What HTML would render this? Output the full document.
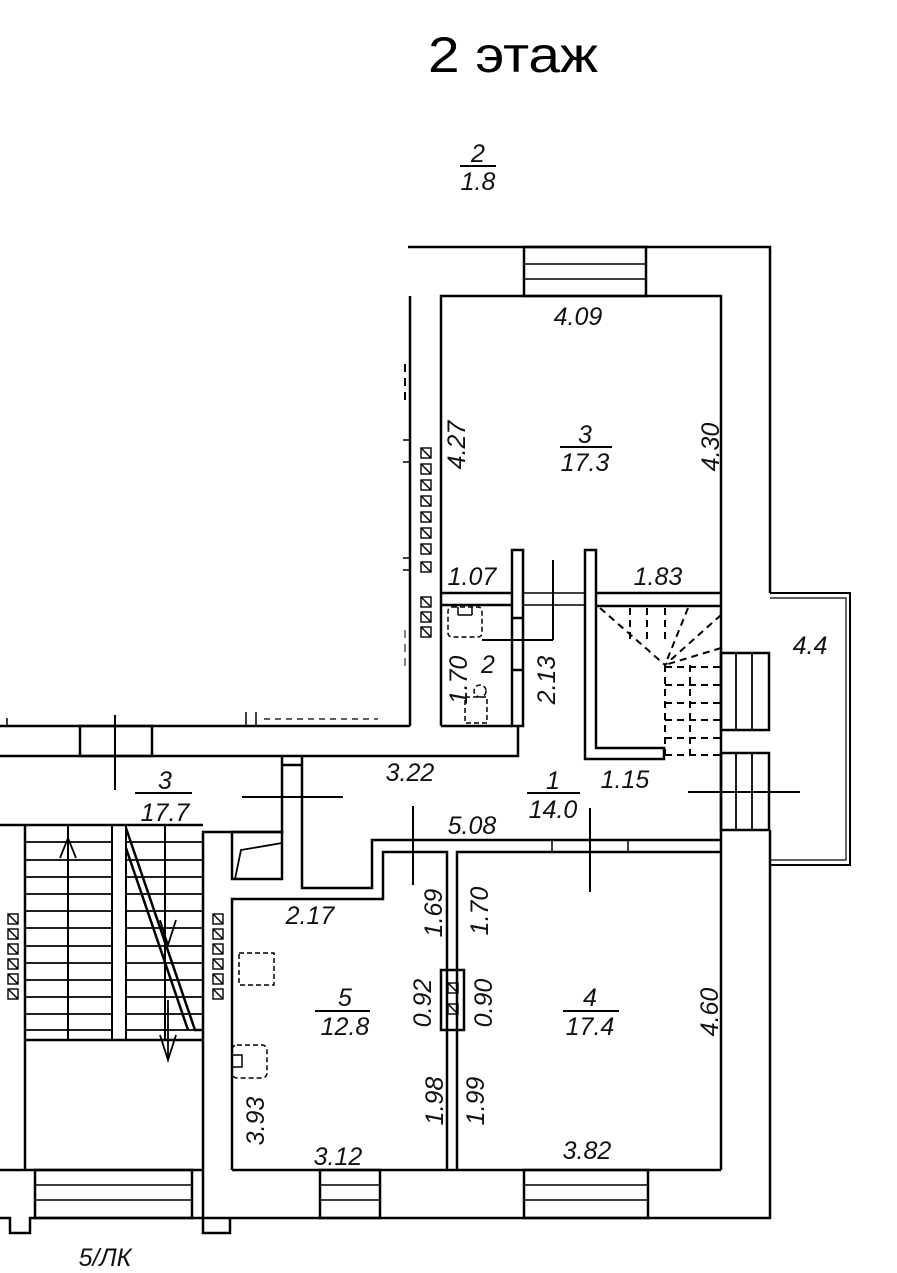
<!DOCTYPE html>
<html><head><meta charset="utf-8"><style>
html,body{margin:0;padding:0;background:#fff}
svg{display:block}
.t{font-family:"Liberation Sans",sans-serif;font-style:italic;font-size:25px;fill:#111}
</style></head><body>
<svg width="897" height="1273" viewBox="0 0 897 1273" xmlns="http://www.w3.org/2000/svg">
<defs><g id="s"><rect x="0" y="0" width="10" height="10" fill="none" stroke="#000" stroke-width="1.4"/><line x1="0" y1="0" x2="10" y2="10" stroke="#000" stroke-width="1.4"/></g></defs>
<g fill="none" stroke="#000" stroke-width="2.5">
<polyline points="408,247 770,247 770,593"/>
<rect x="524" y="247" width="122" height="49"/>
<line x1="524" y1="264" x2="646" y2="264" stroke-width="1.5"/>
<line x1="524" y1="279" x2="646" y2="279" stroke-width="1.5"/>
<polyline points="441,726 441,296 721,296 721,1170"/>
<line x1="410" y1="296" x2="410" y2="726"/>
<line x1="441" y1="593" x2="512" y2="593"/><line x1="441" y1="605" x2="512" y2="605"/>
<line x1="523" y1="593" x2="585" y2="593" stroke-width="1.5"/><line x1="523" y1="605" x2="585" y2="605" stroke-width="1.5"/>
<line x1="596" y1="593" x2="721" y2="593"/><line x1="596" y1="606" x2="721" y2="606"/>
<rect x="512" y="550" width="11" height="176"/>
<line x1="512" y1="618" x2="523" y2="618"/><line x1="512" y1="670" x2="523" y2="670"/>
<polygon points="585,550 596,550 596,748 664,748 664,759 585,759"/>
<polyline points="441,726 512,726"/>
<polyline points="0,726 410,726"/>
<polyline points="0,756 518,756 518,726"/>
<rect x="80" y="726" width="72" height="30"/>
<polyline points="282,756 282,832 203,832 203,1233 230,1233 230,1218"/>
<line x1="282" y1="765" x2="302" y2="765"/>
<polyline points="302,756 302,888 372,888 372,840 721,840"/>
<polyline points="232,1170 232,899 383,899 383,852 447,852 447,1170"/>
<polyline points="457,1170 457,852 721,852"/>
<line x1="628" y1="840" x2="628" y2="852" stroke-width="1.5"/>
<line x1="552" y1="840" x2="552" y2="852" stroke-width="1.5"/>
<rect x="232" y="832" width="50" height="47"/>
<polyline points="235,879 241,850 282,843" stroke-width="1.8"/>
<rect x="441" y="970" width="23" height="60"/>
<polyline points="0,825 203,825"/>
<line x1="25" y1="825" x2="25" y2="1170"/>
<line x1="25" y1="1040" x2="203" y2="1040"/>
<line x1="25" y1="1170" x2="203" y2="1170"/>
<rect x="112" y="825" width="14" height="215" stroke-width="2"/>
<line x1="68" y1="825" x2="68" y2="1040" stroke-width="2"/>
<line x1="165" y1="825" x2="165" y2="1040" stroke-width="2"/>
<g stroke-width="1.8">
<line x1="25" y1="842" x2="112" y2="842"/><line x1="126" y1="842" x2="203" y2="842"/>
<line x1="25" y1="860" x2="112" y2="860"/><line x1="126" y1="860" x2="203" y2="860"/>
<line x1="25" y1="877" x2="112" y2="877"/><line x1="126" y1="877" x2="203" y2="877"/>
<line x1="25" y1="894" x2="112" y2="894"/><line x1="126" y1="894" x2="203" y2="894"/>
<line x1="25" y1="911" x2="112" y2="911"/><line x1="126" y1="911" x2="203" y2="911"/>
<line x1="25" y1="928" x2="112" y2="928"/><line x1="126" y1="928" x2="203" y2="928"/>
<line x1="25" y1="946" x2="112" y2="946"/><line x1="126" y1="946" x2="203" y2="946"/>
<line x1="25" y1="963" x2="112" y2="963"/><line x1="126" y1="963" x2="203" y2="963"/>
<line x1="25" y1="980" x2="112" y2="980"/><line x1="126" y1="980" x2="203" y2="980"/>
<line x1="25" y1="997" x2="112" y2="997"/><line x1="126" y1="997" x2="203" y2="997"/>
<line x1="25" y1="1014" x2="112" y2="1014"/><line x1="126" y1="1014" x2="203" y2="1014"/>
<line x1="25" y1="1030" x2="112" y2="1030"/><line x1="126" y1="1030" x2="203" y2="1030"/>
</g>
<polyline points="126,828 195,1030 203,1030"/><polyline points="126,848 188,1030"/>
<polyline points="60,858 68,838 76,858" stroke-width="1.8"/>
<polyline points="160,920 168,945 176,920" stroke-width="1.8"/>
<line x1="168" y1="1000" x2="168" y2="1060" stroke-width="1.8"/>
<polyline points="160,1035 168,1060 176,1035" stroke-width="1.8"/>
<polyline points="0,1170 25,1170"/>
<polyline points="0,1218 10,1218 10,1233 30,1233 30,1218 770,1218 770,830"/>
<line x1="232" y1="1170" x2="721" y2="1170"/>
<rect x="35" y="1170" width="157" height="48"/>
<line x1="35" y1="1185" x2="192" y2="1185" stroke-width="1.5"/><line x1="35" y1="1200" x2="192" y2="1200" stroke-width="1.5"/>
<rect x="320" y="1170" width="60" height="48"/>
<line x1="320" y1="1185" x2="380" y2="1185" stroke-width="1.5"/><line x1="320" y1="1200" x2="380" y2="1200" stroke-width="1.5"/>
<rect x="524" y="1170" width="124" height="48"/>
<line x1="524" y1="1185" x2="648" y2="1185" stroke-width="1.5"/><line x1="524" y1="1200" x2="648" y2="1200" stroke-width="1.5"/>
<rect x="721" y="653" width="48" height="77"/>
<line x1="736" y1="653" x2="736" y2="730" stroke-width="1.8"/><line x1="752" y1="653" x2="752" y2="730" stroke-width="1.8"/>
<rect x="721" y="753" width="48" height="77"/>
<line x1="736" y1="753" x2="736" y2="830" stroke-width="1.8"/><line x1="752" y1="753" x2="752" y2="830" stroke-width="1.8"/>
<polyline points="770,593 850,593 850,865 770,865" stroke-width="2"/>
<polyline points="770,598 846,598 846,860 770,860" stroke-width="1.2"/>
<g stroke-width="2" stroke-dasharray="7,5">
<line x1="600" y1="608" x2="665" y2="665"/>
<line x1="630" y1="608" x2="630" y2="640"/><line x1="647" y1="608" x2="647" y2="640"/><line x1="665" y1="608" x2="665" y2="640"/>
<line x1="688" y1="608" x2="665" y2="665"/><line x1="721" y1="615" x2="665" y2="665"/><line x1="721" y1="648" x2="665" y2="665"/>
<line x1="665" y1="665" x2="665" y2="755"/><line x1="690" y1="665" x2="690" y2="755"/>
<line x1="665" y1="667" x2="721" y2="667"/><line x1="665" y1="685" x2="721" y2="685"/><line x1="665" y1="703" x2="721" y2="703"/>
<line x1="665" y1="720" x2="721" y2="720"/><line x1="665" y1="738" x2="721" y2="738"/><line x1="665" y1="755" x2="721" y2="755"/>
</g>
<g stroke-width="1.5" stroke-dasharray="5,3">
<rect x="448" y="607" width="34" height="30" rx="4"/>
<rect x="465" y="697" width="22" height="26"/>
<circle cx="480" cy="691" r="6"/>
<rect x="239" y="953" width="35" height="32"/>
<rect x="232" y="1045" width="35" height="33" rx="5"/>
</g>
<line x1="458" y1="607" x2="458" y2="615" stroke-width="1.5"/><line x1="458" y1="615" x2="472" y2="615" stroke-width="1.5"/><line x1="472" y1="607" x2="472" y2="615" stroke-width="1.5"/>
<rect x="232" y="1055" width="10" height="12" stroke-width="1.5"/>
<g stroke-width="2" stroke-dasharray="8,6"><line x1="405" y1="364" x2="405" y2="400"/><line x1="405" y1="630" x2="405" y2="670" stroke-width="1"/></g>
<line x1="403" y1="440" x2="410" y2="440" stroke-width="1.5"/><line x1="403" y1="462" x2="410" y2="462" stroke-width="1.5"/>
<line x1="403" y1="558" x2="410" y2="558" stroke-width="1.5"/><line x1="403" y1="570" x2="410" y2="570" stroke-width="1.5"/>
<line x1="246" y1="712" x2="246" y2="726" stroke-width="1.5"/><line x1="256" y1="712" x2="256" y2="726" stroke-width="1.5"/>
<line x1="7" y1="718" x2="7" y2="726" stroke-width="1.5"/>
<line x1="264" y1="719" x2="378" y2="719" stroke-width="1.2" stroke-dasharray="6,5"/>
<g stroke-width="2">
<line x1="115" y1="715" x2="115" y2="790"/>
<line x1="242" y1="797" x2="343" y2="797"/>
<line x1="413" y1="806" x2="413" y2="885"/>
<line x1="590" y1="808" x2="590" y2="892"/>
<line x1="688" y1="792" x2="800" y2="792"/>
<line x1="553" y1="560" x2="553" y2="640"/>
<line x1="482" y1="640" x2="553" y2="640"/>
</g>
<g stroke-width="2">
<line x1="460" y1="166" x2="496" y2="166"/>
<line x1="560" y1="447" x2="612" y2="447"/>
<line x1="135" y1="793" x2="192" y2="793"/>
<line x1="527" y1="793" x2="580" y2="793"/>
<line x1="315" y1="1011" x2="370" y2="1011"/>
<line x1="563" y1="1011" x2="619" y2="1011"/>
</g>
</g>
<g>
<use href="#s" x="421" y="448"/><use href="#s" x="421" y="464"/><use href="#s" x="421" y="480"/><use href="#s" x="421" y="496"/>
<use href="#s" x="421" y="512"/><use href="#s" x="421" y="528"/><use href="#s" x="421" y="544"/><use href="#s" x="421" y="562"/>
<use href="#s" x="421" y="597"/><use href="#s" x="421" y="612"/><use href="#s" x="421" y="627"/>
<use href="#s" x="8" y="914"/><use href="#s" x="8" y="929"/><use href="#s" x="8" y="944"/><use href="#s" x="8" y="959"/><use href="#s" x="8" y="974"/><use href="#s" x="8" y="989"/>
<use href="#s" x="213" y="914"/><use href="#s" x="213" y="929"/><use href="#s" x="213" y="944"/><use href="#s" x="213" y="959"/><use href="#s" x="213" y="974"/><use href="#s" x="213" y="989"/>
<use href="#s" x="448" y="983"/><use href="#s" x="448" y="1004"/>
</g>
<text x="428" y="72" textLength="170" lengthAdjust="spacingAndGlyphs" font-family="Liberation Sans, DejaVu Sans, sans-serif" font-size="50" fill="#000">2 этаж</text>
<g text-anchor="middle">
<text x="478" y="162" class="t">2</text><text x="478" y="190" class="t">1.8</text>
<text x="578" y="325" class="t">4.09</text>
<text x="585" y="443" class="t">3</text><text x="585" y="471" class="t">17.3</text>
<text x="472" y="585" class="t">1.07</text><text x="658" y="585" class="t">1.83</text>
<text x="488" y="673" class="t">2</text>
<text x="810" y="654" class="t">4.4</text>
<text x="410" y="781" class="t">3.22</text>
<text x="553" y="789" class="t">1</text><text x="553" y="818" class="t">14.0</text>
<text x="625" y="788" class="t">1.15</text>
<text x="472" y="834" class="t">5.08</text>
<text x="165" y="789" class="t">3</text><text x="165" y="821" class="t">17.7</text>
<text x="310" y="924" class="t">2.17</text>
<text x="345" y="1006" class="t">5</text><text x="345" y="1035" class="t">12.8</text>
<text x="590" y="1006" class="t">4</text><text x="590" y="1035" class="t">17.4</text>
<text x="338" y="1165" class="t">3.12</text><text x="587" y="1159" class="t">3.82</text>
<text x="105" y="1266" class="t">5/ЛК</text>
<text transform="translate(465,445) rotate(-90)" class="t">4.27</text>
<text transform="translate(719,447) rotate(-90)" class="t">4.30</text>
<text transform="translate(467,680) rotate(-90)" class="t">1.70</text>
<text transform="translate(555,680) rotate(-90)" class="t">2.13</text>
<text transform="translate(442,913) rotate(-90)" class="t">1.69</text>
<text transform="translate(488,911) rotate(-90)" class="t">1.70</text>
<text transform="translate(431,1003) rotate(-90)" class="t">0.92</text>
<text transform="translate(492,1003) rotate(-90)" class="t">0.90</text>
<text transform="translate(718,1012) rotate(-90)" class="t">4.60</text>
<text transform="translate(264,1121) rotate(-90)" class="t">3.93</text>
<text transform="translate(443,1101) rotate(-90)" class="t">1.98</text>
<text transform="translate(484,1101) rotate(-90)" class="t">1.99</text>
</g>
</svg>
</body></html>
